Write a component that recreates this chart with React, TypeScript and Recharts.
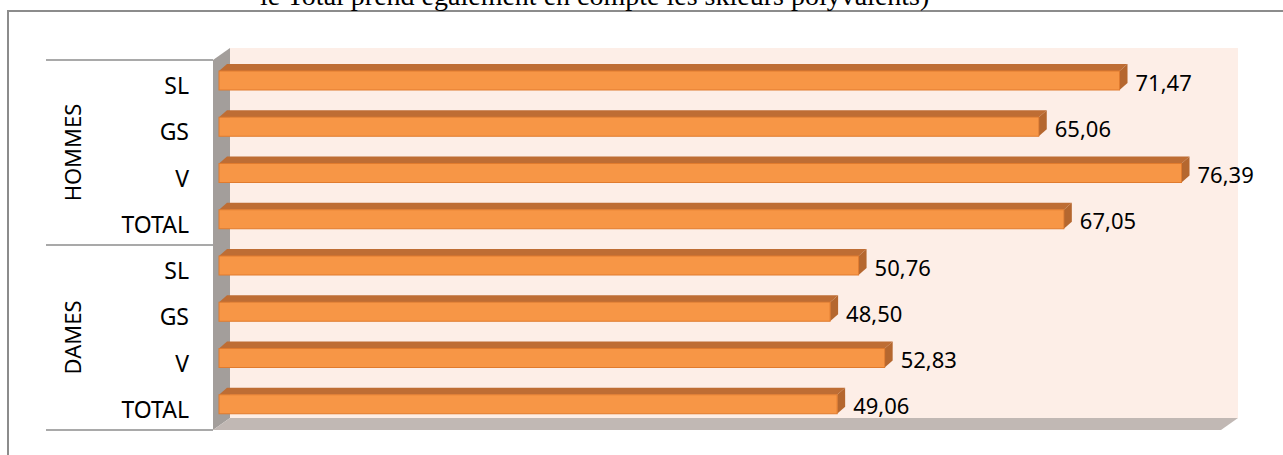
import { BarChart, Bar, XAxis, YAxis, LabelList } from 'recharts';

// chart values
const categories = ['SL', 'GS', 'V', 'TOTAL', 'SL', 'GS', 'V', 'TOTAL'];
const groups = ['HOMMES', 'HOMMES', 'HOMMES', 'HOMMES', 'DAMES', 'DAMES', 'DAMES', 'DAMES'];
const values = [71.47, 65.06, 76.39, 67.05, 50.76, 48.5, 52.83, 49.06];
const valueMax = 80;
const titleText = 'le Total prend également en compte les skieurs polyvalents)';

const rows = categories.map((c, i) => ({ id: `k${i}`, cat: c, group: groups[i], value: values[i] }));

// layout of the front plane of the 3D box
const W = 1283;
const H = 455;
const L = 213;
const R = 1221;
const T = 60;
const B = 430;
const DX = 17;
const DY = -12;
const BAND = (B - T) / categories.length;

const FONT = '"Noto Sans", sans-serif';

function CatTick(props: any) {
    const { y, payload } = props;
    const i = rows.findIndex((r) => r.id === payload.value);
    const isFirst = i === 0 || groups[i] !== groups[i - 1];
    const isLast = i === rows.length - 1;
    return (
        <g>
            <text x={L - 24} y={y + 2} textAnchor="end" dominantBaseline="central" fontFamily={FONT} fontSize={23} fill="#000">
                {categories[i]}
            </text>
            {isFirst && (
                <>
                    <line x1={46} x2={L} y1={y - BAND / 2} y2={y - BAND / 2} stroke="#8c8c8c" strokeWidth={1.5} />
                    <text
                        x={72}
                        y={y + BAND * 1.5}
                        transform={`rotate(-90 72 ${y + BAND * 1.5})`}
                        textAnchor="middle"
                        dominantBaseline="central"
                        fontFamily={FONT}
                        fontSize={22}
                        fill="#000"
                    >
                        {groups[i]}
                    </text>
                </>
            )}
            {isLast && <line x1={46} x2={L} y1={y + BAND / 2} y2={y + BAND / 2} stroke="#8c8c8c" strokeWidth={1.5} />}
        </g>
    );
}

function Bar3D(props: any) {
    const { x, y, width, height } = props;
    const fx = x + 6;
    const fy = y - 3;
    const x1 = fx + width;
    const d = 8;
    const e = 7;
    return (
        <g>
            <polygon points={`${fx},${fy} ${x1},${fy} ${x1 + d},${fy - e} ${fx + d},${fy - e}`} fill="#BE6D34" />
            <polygon points={`${x1},${fy} ${x1 + d},${fy - e} ${x1 + d},${fy - e + height} ${x1},${fy + height}`} fill="#B5672F" />
            <rect x={fx} y={fy} width={x1 - fx} height={height} fill="#F79646" stroke="#E07B2E" strokeWidth={1} />
        </g>
    );
}

function ValueLabel(props: any) {
    const { x, y, width, height, value } = props;
    return (
        <text x={x + width + 6 + 16} y={y + height / 2 - 2} dominantBaseline="central" fontFamily={FONT} fontSize={22} fill="#000">
            {Number(value).toFixed(2).replace('.', ',')}
        </text>
    );
}

export default function App() {
    return (
        <div style={{ position: 'absolute', left: 0, top: 0, width: W, height: H, background: '#fff', overflow: 'hidden' }}>
            <div style={{ position: 'absolute', left: 7, top: 10, width: W, height: H, borderTop: '2px solid #8c8c8c', borderLeft: '2px solid #8c8c8c' }} />
            <svg width={W} height={H} style={{ position: 'absolute', left: 0, top: 0 }}>
                <text x={260} y={5} fontFamily='"Liberation Serif", serif' fontSize={28} fill="#000">
                    {titleText}
                </text>
                <rect x={L + DX} y={T + DY} width={R - L} height={B - T} fill="#FDEEE7" />
                <polygon points={`${L},${T} ${L + DX},${T + DY} ${L + DX},${B + DY} ${L},${B}`} fill="#A39E9B" />
                <polygon points={`${L},${B} ${L + DX},${B + DY} ${R + DX},${B + DY} ${R},${B}`} fill="#C1B8B4" />
            </svg>
            <div style={{ position: 'absolute', left: 0, top: 0 }}>
                <BarChart width={W} height={H} layout="vertical" data={rows} margin={{ top: T, right: W - R, bottom: H - B, left: 0 }} barSize={19}>
                    <XAxis type="number" domain={[0, valueMax]} hide />
                    <YAxis type="category" dataKey="id" width={L} axisLine={false} tickLine={false} interval={0} tick={<CatTick />} />
                    <Bar dataKey="value" isAnimationActive={false} shape={<Bar3D />}>
                        <LabelList dataKey="value" content={<ValueLabel />} />
                    </Bar>
                </BarChart>
            </div>
        </div>
    );
}
